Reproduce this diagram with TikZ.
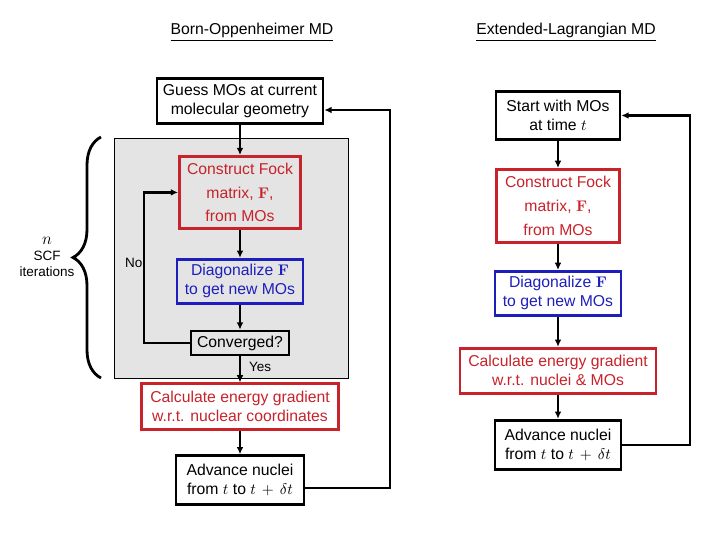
\documentclass[tikz,border=0pt]{standalone}
\usepackage[no-math]{fontspec}
\setmainfont{Liberation Sans}
\usepackage{tikz}
\usetikzlibrary{arrows.meta,positioning,decorations.pathreplacing}
\definecolor{fockred}{RGB}{200,34,42}
\definecolor{diagblue}{RGB}{30,30,188}
\definecolor{scfgray}{RGB}{228,228,228}

\begin{document}
\begin{tikzpicture}[
  x=0.25mm, y=-0.25mm,
  >={Latex[length=1.8mm,width=1.7mm]},
  flowbox/.style={draw, line width=2pt, align=center, inner sep=2pt, font=\fontsize{11.2}{13.5}\selectfont},
  blackbox/.style={flowbox},
  fockbox/.style={flowbox, draw=fockred, text=fockred, inner ysep=0pt, font=\fontsize{11.2}{17}\selectfont},
  gradbox/.style={flowbox, draw=fockred, text=fockred},
  diagbox/.style={flowbox, draw=diagblue, text=diagblue},
  title/.style={font=\fontsize{11.2}{13.5}\selectfont},
  note/.style={align=center, font=\fontsize{9.6}{11.5}\selectfont},
  arrow/.style={->, line width=1.7pt}
]
\useasboundingbox (0,0) rectangle (720,540);

\node[title] (boTitle) at (252,32) {\underline{Born-Oppenheimer MD}};
\node[title] (elTitle) at (566,32) {\underline{Extended-Lagrangian MD}};

% shaded SCF loop
\node[draw, line width=0.7pt, fill=scfgray, minimum width=58.5mm, minimum height=60mm, inner sep=0pt] (scfRegion) at (231,258) {};

\node[blackbox, minimum width=41.5mm, minimum height=11.3mm] (boGuess) at (240,101) {Guess MOs at current\\molecular geometry};
\node[fockbox, minimum width=30.3mm, minimum height=18mm, below=7.5mm of boGuess] (boFock) {Construct Fock\\matrix, $\mathbf{F}$,\\from MOs};
\node[diagbox, minimum width=31.5mm, minimum height=11mm, below=7mm of boFock] (boDiag) {Diagonalize $\mathbf{F}$\\to get new MOs};
\node[blackbox, minimum width=24.5mm, minimum height=6mm, below=6.25mm of boDiag] (boConv) {Converged?};
\node[gradbox, minimum width=49.3mm, minimum height=11.5mm, below=6.5mm of boConv] (boGrad) {Calculate energy gradient\\w.r.t. nuclear coordinates};
\node[blackbox, minimum width=32mm, minimum height=12.3mm, below=5.75mm of boGrad] (boAdvance) {Advance nuclei\\from $t$ to $t\,+\,\delta t$};

\node[blackbox, minimum width=31mm, minimum height=12mm] (elStart) at (558,115.5) {Start with MOs\\at time $t$};
\node[fockbox, minimum width=30.8mm, minimum height=18.3mm, below=6.75mm of elStart] (elFock) {Construct Fock\\matrix, $\mathbf{F}$,\\from MOs};
\node[diagbox, minimum width=31.5mm, minimum height=11mm, below=6.5mm of elFock] (elDiag) {Diagonalize $\mathbf{F}$\\to get new MOs};
\node[gradbox, minimum width=49mm, minimum height=11.3mm, below=7.5mm of elDiag] (elGrad) {Calculate energy gradient\\w.r.t. nuclei \& MOs};
\node[blackbox, minimum width=31.5mm, minimum height=12.3mm, below=6mm of elGrad] (elAdvance) {Advance nuclei\\from $t$ to $t\,+\,\delta t$};

% brace for the SCF cycles
\draw[line width=2pt, decorate, decoration={brace, amplitude=7mm}] (101,378) -- (101,137);
\node[note] (scfNote) at (47,257) {{\fontsize{12.5}{12.5}\selectfont$n$}\\SCF\\iterations};

\draw[arrow] (boGuess) -- (boFock);
\draw[arrow] (boFock) -- (boDiag);
\draw[arrow] (boDiag) -- (boConv);
\draw[arrow] (boConv) -- node[note, right, inner sep=2mm, pos=0.4] (yesLabel) {Yes} (boGrad);
\draw[arrow] (boGrad) -- (boAdvance);

\coordinate (noBend) at (144,0);
\draw[arrow] (boConv.west) -- (boConv.west -| noBend) |- (boFock.west);
\node[note, anchor=east, inner sep=1pt] (noLabel) at (144,263) {No};

\coordinate (boReturn) at (390,488);
\coordinate (boTop) at (390,110);
\draw[arrow] (boAdvance.east |- boReturn) -- (boReturn) -- (boTop) -- (boTop -| boGuess.east);

\draw[arrow] (elStart) -- (elFock);
\draw[arrow] (elFock) -- (elDiag);
\draw[arrow] (elDiag) -- (elGrad);
\draw[arrow] (elGrad) -- (elAdvance);

\coordinate (elReturn) at (690,0);
\draw[arrow] (elAdvance.east) -- (elAdvance.east -| elReturn) |- (elStart.east);

\end{tikzpicture}
\end{document}
